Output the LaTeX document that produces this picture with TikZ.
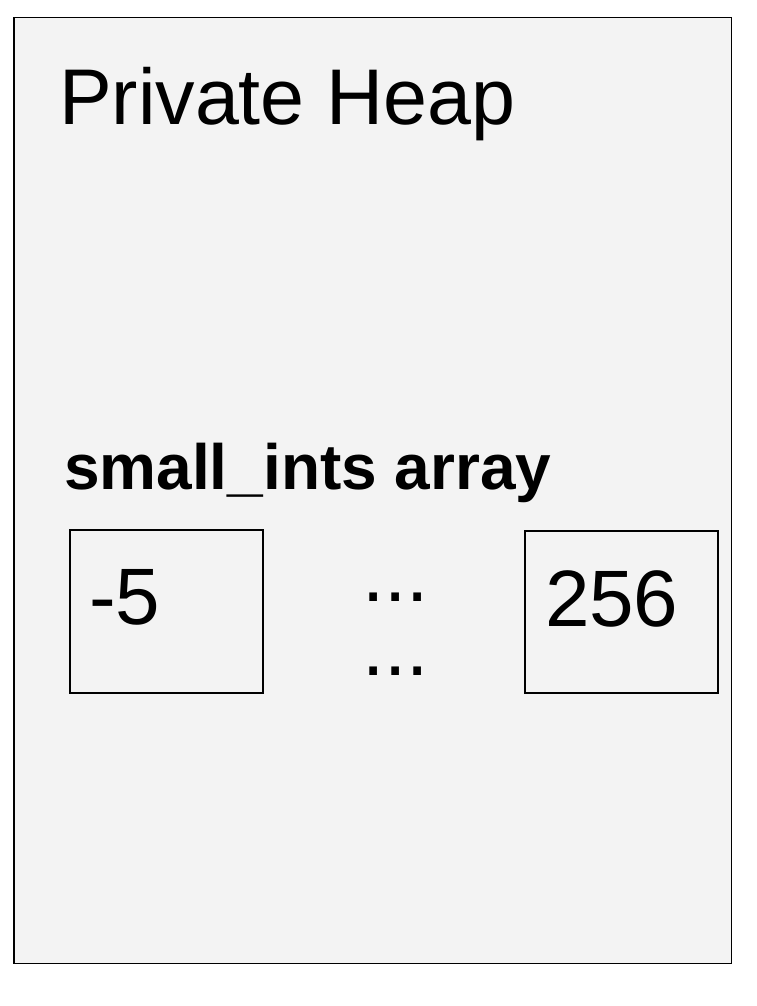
\documentclass[tikz,border=0pt]{standalone}
\usepackage{fontspec}
\setmainfont{Liberation Sans}
\definecolor{heapfill}{HTML}{F3F3F3}
\tikzset{
  frame/.style={draw=black, fill=heapfill, line width=1.5pt, inner sep=0pt, outer sep=0pt},
  cell/.style={draw=black, line width=1.3pt, inner sep=0pt, outer sep=0pt},
  txt/.style={inner sep=0pt, outer sep=0pt, anchor=base west},
}
\begin{document}
\begin{tikzpicture}[x=1pt,y=1pt]
\useasboundingbox (0,0) rectangle (756,1006);
\node[frame, minimum width=717.5pt, minimum height=946pt, anchor=north west] (heap) at (14,988.5) {};
\node[txt, font=\fontsize{79}{90}\selectfont] (title) at (59,881) {Private Heap};
\node[txt, font=\fontsize{64}{74}\selectfont\bfseries] (arr) at (64,516) {small\_ints array};
\node[cell, minimum width=193pt, minimum height=163pt, anchor=north west] (c1) at (70,476) {};
\node[cell, minimum width=193pt, minimum height=162pt, anchor=north west] (c2) at (525,475) {};
\node[txt, font=\fontsize{80}{90}\selectfont] (v1) at (89,381) {-5};
\node[txt, font=\fontsize{80}{90}\selectfont] (v2) at (545,379) {256};
\node[txt, font=\fontsize{80}{90}\selectfont] (d1) at (362,404) {...};
\node[txt, font=\fontsize{80}{90}\selectfont] (d2) at (362,330) {...};
\end{tikzpicture}
\end{document}
